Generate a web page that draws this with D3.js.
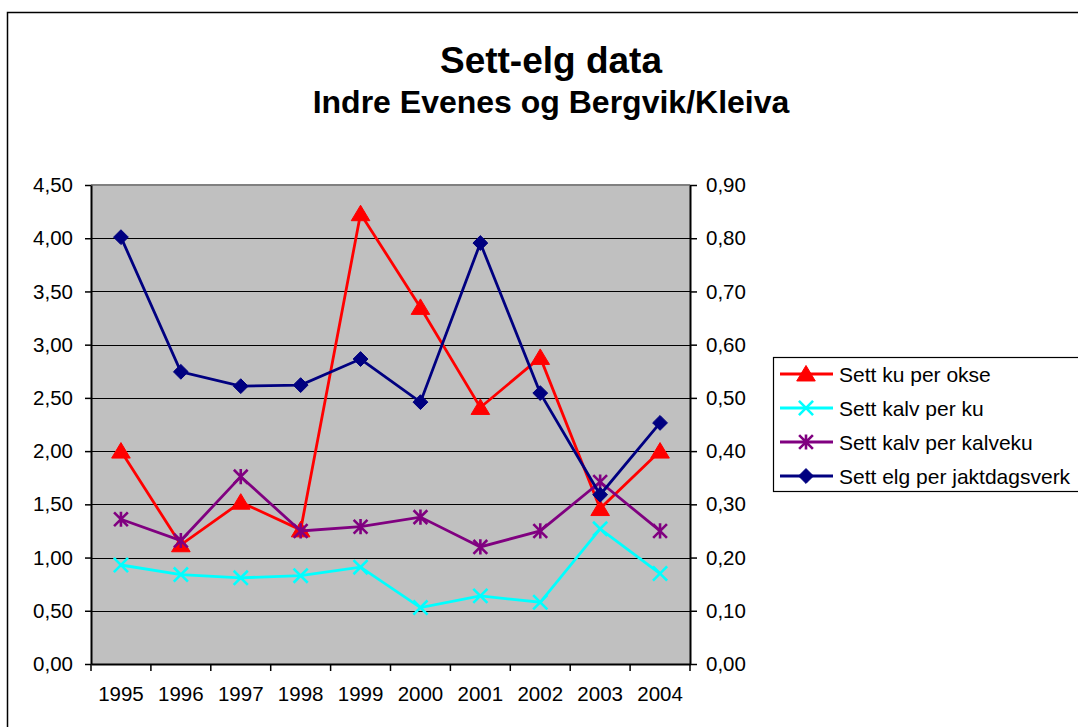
<!DOCTYPE html>
<html>
<head>
<meta charset="utf-8">
<script src="https://cdn.jsdelivr.net/npm/d3@7"></script>
<style>
  body { margin: 0; background: #fff; }
  text { font-family: Arial, "Liberation Sans", sans-serif; fill: #000; }
</style>
</head>
<body>
<div id="chart"></div>
<script>
// chart data
var years = ["1995", "1996", "1997", "1998", "1999", "2000", "2001", "2002", "2003", "2004"];
var kuPerOkse = [2.00, 1.12, 1.52, 1.26, 4.23, 3.35, 2.41, 2.88, 1.46, 2.00];
var kalvPerKu = [0.93, 0.84, 0.81, 0.83, 0.91, 0.53, 0.64, 0.58, 1.27, 0.85];
var kalvPerKalveku = [1.36, 1.16, 1.76, 1.25, 1.29, 1.38, 1.10, 1.25, 1.71, 1.25];
// this one sits on the right hand axis
var elgPerDagsverk = [0.802, 0.549, 0.522, 0.524, 0.573, 0.492, 0.791, 0.509, 0.318, 0.453];
var leftTicks = [0, 0.5, 1, 1.5, 2, 2.5, 3, 3.5, 4, 4.5];
var rightTicks = [0, 0.1, 0.2, 0.3, 0.4, 0.5, 0.6, 0.7, 0.8, 0.9];

var seriesNames = ["Sett ku per okse", "Sett kalv per ku", "Sett kalv per kalveku", "Sett elg per jaktdagsverk"];

var width = 1078, height = 727;
var plot = {left: 91, right: 690, top: 185, bottom: 664};

var svg = d3.select("#chart").append("svg")
  .attr("width", width)
  .attr("height", height);

// outer chart border (runs off the page on right and bottom)
svg.append("rect")
  .attr("x", 7.5).attr("y", 12.5)
  .attr("width", 1200).attr("height", 900)
  .attr("fill", "#fff")
  .attr("stroke", "#000")
  .attr("stroke-width", 1.5);

svg.append("text")
  .attr("x", 551).attr("y", 73)
  .attr("text-anchor", "middle")
  .style("font-size", "37px").style("font-weight", "bold")
  .text("Sett-elg data");
svg.append("text")
  .attr("x", 551).attr("y", 113)
  .attr("text-anchor", "middle")
  .style("font-size", "32px").style("font-weight", "bold")
  .text("Indre Evenes og Bergvik/Kleiva");

var x = d3.scaleBand().domain(years).range([plot.left, plot.right]);
var yL = d3.scaleLinear().domain([0, 4.5]).range([plot.bottom, plot.top]);
var yR = d3.scaleLinear().domain([0, 0.9]).range([plot.bottom, plot.top]);
var comma = function(v) { return d3.format(".2f")(v).replace(".", ","); };

// plot area
svg.append("rect")
  .attr("x", plot.left).attr("y", plot.top)
  .attr("width", plot.right - plot.left).attr("height", plot.bottom - plot.top)
  .attr("fill", "#c0c0c0");

svg.selectAll(".grid")
  .data(leftTicks.slice(1, -1))
  .enter().append("line")
  .attr("class", "grid")
  .attr("x1", plot.left).attr("x2", plot.right)
  .attr("y1", d => Math.round(yL(d)) + 0.5).attr("y2", d => Math.round(yL(d)) + 0.5)
  .attr("stroke", "#000").attr("stroke-width", 1);

// top edge of plot area
svg.append("line")
  .attr("x1", plot.left).attr("x2", plot.right)
  .attr("y1", plot.top).attr("y2", plot.top)
  .attr("stroke", "#808080").attr("stroke-width", 2);

// axes
var leftAxis = svg.append("g")
  .attr("transform", "translate(" + plot.left + ",0)")
  .call(d3.axisLeft(yL).tickValues(leftTicks).tickFormat(comma).tickSize(6).tickPadding(12).tickSizeOuter(0));
var rightAxis = svg.append("g")
  .attr("transform", "translate(" + plot.right + ",0)")
  .call(d3.axisRight(yR).tickValues(rightTicks).tickFormat(comma).tickSize(7).tickPadding(9).tickSizeOuter(0));
var bottomAxis = svg.append("g")
  .attr("transform", "translate(0," + plot.bottom + ")")
  .call(d3.axisBottom(x).tickSize(0).tickPadding(22));

// category tick marks sit between the years, Excel style
var edges = years.map(y => x(y)).concat([x.range()[1]]);
bottomAxis.selectAll(".edge")
  .data(edges)
  .enter().append("line")
  .attr("class", "edge")
  .attr("x1", d => d).attr("x2", d => d)
  .attr("y1", 0).attr("y2", 7)
  .attr("stroke", "#000").attr("stroke-width", 1.5);

[leftAxis, rightAxis, bottomAxis].forEach(function(g) {
  g.selectAll("text").style("font-size", "20.5px").style("font-family", "Arial, 'Liberation Sans', sans-serif").attr("fill", "#000");
  g.selectAll(".tick line").attr("stroke", "#000").attr("stroke-width", 1.5);
  g.select(".domain").attr("stroke", "#000").attr("stroke-width", 2);
});

// marker shapes
var triangle = {draw: function(ctx, size) {
  var r = Math.sqrt(size);
  ctx.moveTo(0, -r * 0.55); ctx.lineTo(r * 0.6, r * 0.45); ctx.lineTo(-r * 0.6, r * 0.45); ctx.closePath();
}};
var diamond = {draw: function(ctx, size) {
  var r = Math.sqrt(size / 2);
  ctx.moveTo(0, -r); ctx.lineTo(r, 0); ctx.lineTo(0, r); ctx.lineTo(-r, 0); ctx.closePath();
}};
var cross = {draw: function(ctx, size) {
  var r = Math.sqrt(size) / 2;
  ctx.moveTo(-r, -r); ctx.lineTo(r, r); ctx.moveTo(r, -r); ctx.lineTo(-r, r);
}};
var star = {draw: function(ctx, size) {
  var r = Math.sqrt(size) / 2;
  ctx.moveTo(-r, -r); ctx.lineTo(r, r); ctx.moveTo(r, -r); ctx.lineTo(-r, r);
  ctx.moveTo(0, -r * 1.1); ctx.lineTo(0, r * 1.1);
}};

var series = [
  {name: seriesNames[0], values: kuPerOkse, scale: yL, color: "#ff0000", sym: triangle, size: 240, filled: true},
  {name: seriesNames[1], values: kalvPerKu, scale: yL, color: "#00ffff", sym: cross, size: 200, filled: false},
  {name: seriesNames[2], values: kalvPerKalveku, scale: yL, color: "#800080", sym: star, size: 190, filled: false},
  {name: seriesNames[3], values: elgPerDagsverk, scale: yR, color: "#000080", sym: diamond, size: 110, filled: true}
];

var cx = d => x(d.year) + x.bandwidth() / 2;

series.forEach(function(s) {
  var pts = years.map((yr, i) => ({year: yr, v: s.values[i]}));
  var line = d3.line().x(cx).y(d => s.scale(d.v));
  svg.append("path")
    .datum(pts)
    .attr("d", line)
    .attr("fill", "none")
    .attr("stroke", s.color)
    .attr("stroke-width", 2.8);
  svg.selectAll(null)
    .data(pts)
    .enter().append("path")
    .attr("d", d3.symbol().type(s.sym).size(s.size))
    .attr("transform", d => "translate(" + cx(d) + "," + s.scale(d.v) + ")")
    .attr("fill", s.filled ? s.color : "none")
    .attr("stroke", s.color)
    .attr("stroke-width", s.filled ? 1 : 2.6);
});

// legend
var legend = svg.append("g");
legend.append("rect")
  .attr("x", 773.5).attr("y", 357.5)
  .attr("width", 400).attr("height", 134)
  .attr("fill", "#fff").attr("stroke", "#000").attr("stroke-width", 1.2);

var rows = legend.selectAll(".row")
  .data(series)
  .enter().append("g")
  .attr("class", "row")
  .attr("transform", (d, i) => "translate(0," + (374 + i * 34) + ")");
rows.append("line")
  .attr("x1", 780).attr("x2", 833)
  .attr("stroke", d => d.color).attr("stroke-width", 2.8);
rows.append("path")
  .attr("d", d => d3.symbol().type(d.sym).size(d.size)())
  .attr("transform", "translate(806,0)")
  .attr("fill", d => d.filled ? d.color : "none")
  .attr("stroke", d => d.color)
  .attr("stroke-width", d => d.filled ? 1 : 2.6);
rows.append("text")
  .attr("x", 839).attr("y", 7.5)
  .style("font-size", "21px")
  .text(d => d.name);
</script>
</body>
</html>
